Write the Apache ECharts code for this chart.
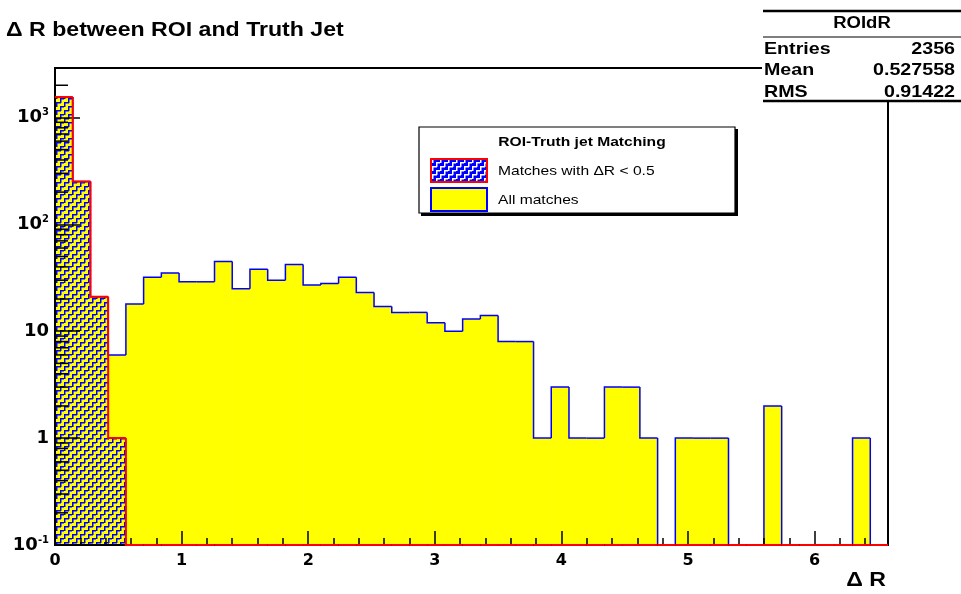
<!DOCTYPE html>
<html><head><meta charset="utf-8">
<script src="https://cdn.jsdelivr.net/npm/echarts@6/dist/echarts.min.js"></script>
<style>html,body{margin:0;padding:0;background:#fff}#c{width:961px;height:594px}</style>
</head><body><div id="c"></div>
<script>
// ---- data ----
const binWidth = 0.14;
const xMin = 0, xMax = 6.58;
const yMin = 0.1, yMax = 2900;
const allMatches = [1550, 252, 21, 6, 18, 32, 35, 29, 29, 45, 25, 38, 30, 42, 27, 28, 32, 23, 17, 15, 15, 12, 10, 13, 14, 8, 8, 1, 3, 1, 1, 3, 3, 1, 0, 1, 1, 1, 0, 0, 2, 0, 0, 0, 0, 1, 0];
const dRMatches = [1550, 252, 21, 1, 0, 0, 0, 0, 0, 0, 0, 0, 0, 0, 0, 0, 0, 0, 0, 0, 0, 0, 0, 0, 0, 0, 0, 0, 0, 0, 0, 0, 0, 0, 0, 0, 0, 0, 0, 0, 0, 0, 0, 0, 0, 0, 0];
const xTickLabels = ['0', '1', '2', '3', '4', '5', '6'];
const yTickExponents = [-1, 0, 1, 2, 3];
const titleText = 'Δ R between ROI and Truth Jet';
const xAxisTitle = 'Δ R';
const statsTitle = 'ROIdR';
const statsNames = ['Entries', 'Mean', 'RMS'];
const statsValues = ['2356', '0.527558', '0.91422'];
const legendTitle = 'ROI-Truth jet Matching';
const legendNames = ['Matches with ΔR < 0.5', 'All matches'];

// ---- helpers ----
const SX = 1.156;
const FONT = '"Liberation Sans", Arial, sans-serif';
function makePattern(bg, fg) {
  const c = document.createElement('canvas');
  c.width = 8; c.height = 8;
  const g = c.getContext('2d');
  if (bg) { g.fillStyle = bg; g.fillRect(0, 0, 8, 8); }
  g.fillStyle = fg;
  g.fillRect(0, 6, 5, 1.5);
  g.fillRect(4, 2, 1.5, 5);
  g.fillRect(4, 2, 4, 1.5);
  g.fillRect(0, 0, 1.5, 3);
  g.fillRect(0, 6, 1.5, 2);
  return c;
}
const hatchChart = makePattern(null, '#0000ff');
const hatchLegend = makePattern('#0000ff', '#ffffff');

function histData(vals) {
  return vals.map((v, i) => [i * binWidth, (i + 1) * binWidth, v]);
}
// filled bins
function fillRender(fill) {
  return function (params, api) {
    const x0 = api.value(0), x1 = api.value(1), v = api.value(2);
    if (!(v > 0)) return null;
    const p0 = api.coord([x0, v]);
    const p1 = api.coord([x1, v]);
    const pb = api.coord([x0, yMin]);
    return { type: 'rect', shape: { x: p0[0], y: p0[1], width: p1[0] - p0[0] + 0.6, height: pb[1] - p0[1] }, style: { fill: fill } };
  };
}
// step outline
function lineRender(vals, stroke, lw) {
  return function (params, api) {
    const i = params.dataIndex;
    const x0 = api.value(0), x1 = api.value(1), v = api.value(2);
    const vv = v > 0 ? v : yMin;
    const pv = i > 0 ? (vals[i - 1] > 0 ? vals[i - 1] : yMin) : yMin;
    const p0 = api.coord([x0, vv]);
    const p1 = api.coord([x1, vv]);
    const pp = api.coord([x0, pv]);
    const pts = (i === 0) ? [p0, p1] : [pp, p0, p1];
    if (i === vals.length - 1) pts.push(api.coord([x1, yMin]));
    return { type: 'polyline', shape: { points: pts }, style: { stroke: stroke, lineWidth: lw, fill: null } };
  };
}
const yMinorTicks = [];
for (let e = -1; e <= 3; e++) for (let m = 2; m <= 9; m++) { const t = m * Math.pow(10, e); if (t < yMax) yMinorTicks.push(t); }

function supLabel(exp) {
  if (exp === 0) return '{b|1}';
  if (exp === 1) return '{b|10}';
  return '{b|10}{s|' + exp + '}';
}

const chart = echarts.init(document.getElementById('c'));
chart.setOption({
  animation: false,
  grid: { left: 55, right: 73, top: 68, bottom: 49, show: true, borderColor: '#000', borderWidth: 2, backgroundColor: 'transparent', outerBoundsMode: 'none' },
  xAxis: {
    type: 'value', min: xMin, max: xMax, interval: 1, z: 10,
    axisLine: { show: true, lineStyle: { color: '#000', width: 2 } },
    axisTick: { show: true, inside: true, length: 14, lineStyle: { color: '#000', width: 1.5 } },
    minorTick: { show: true, splitNumber: 5, length: 7, lineStyle: { color: '#000', width: 1.5 } },
    splitLine: { show: false },
    axisLabel: {
      margin: 8, color: '#000', fontFamily: '"DejaVu Sans"', fontWeight: 'bold', fontSize: 16,
      showMaxLabel: false,
      formatter: v => { const k = Math.round(v); return Math.abs(v - k) < 1e-6 ? xTickLabels[k] : ''; }
    }
  },
  yAxis: {
    type: 'log', logBase: 10, min: yMin, max: yMax, z: 10,
    axisLine: { show: true, lineStyle: { color: '#000', width: 2 } },
    axisTick: { show: true, inside: true, length: 25, lineStyle: { color: '#000', width: 1.5 } },
    splitLine: { show: false },
    axisLabel: {
      margin: 6, color: '#000', showMaxLabel: false,
      formatter: v => {
        const e = Math.round(Math.log10(v));
        if (Math.abs(Math.log10(v) - e) > 1e-6 || yTickExponents.indexOf(e) < 0) return '';
        return supLabel(e);
      },
      rich: {
        b: { fontFamily: '"DejaVu Sans"', fontWeight: 'bold', fontSize: 18, color: '#000' },
        s: { fontFamily: '"DejaVu Sans"', fontWeight: 'bold', fontSize: 10, color: '#000', verticalAlign: 'bottom', padding: [0, 0, 10, 0] }
      }
    }
  },
  series: [
    {
      type: 'custom', name: 'All matches', z: 3, clip: false, silent: true,
      renderItem: fillRender('#ffff00'),
      data: histData(allMatches), encode: { x: [0, 1], y: 2 }
    },
    {
      type: 'custom', name: 'All matches outline', z: 4, clip: false, silent: true,
      renderItem: lineRender(allMatches, '#0000ff', 1.5),
      data: histData(allMatches), encode: { x: [0, 1], y: 2 }
    },
    {
      type: 'custom', name: 'Matches with ΔR < 0.5', z: 5, clip: false, silent: true,
      renderItem: fillRender({ image: hatchChart, repeat: 'repeat' }),
      data: histData(dRMatches), encode: { x: [0, 1], y: 2 }
    },
    {
      type: 'custom', name: 'minor y ticks', z: 12, clip: false, silent: true,
      renderItem: function (params, api) {
        const p = api.coord([0, api.value(1)]);
        return { type: 'line', shape: { x1: p[0], y1: p[1], x2: p[0] + 13, y2: p[1] }, style: { stroke: '#000', lineWidth: 1.5 } };
      },
      data: yMinorTicks.map(t => [0, t]), encode: { x: 0, y: 1 }
    },
    {
      type: 'custom', name: 'Matches outline', z: 20, clip: false, silent: true,
      renderItem: lineRender(dRMatches, '#ff0000', 2),
      data: histData(dRMatches), encode: { x: [0, 1], y: 2 }
    }
  ],
  graphic: [
    { type: 'text', x: 6, y: 30, scaleX: SX, style: { text: titleText, fontFamily: FONT, fontWeight: 'bold', fontSize: 20, fill: '#000', verticalAlign: 'middle', align: 'left' } },
    { type: 'text', x: 886, y: 580, scaleX: SX, style: { text: xAxisTitle, fontFamily: FONT, fontWeight: 'bold', fontSize: 20, fill: '#000', verticalAlign: 'middle', align: 'right' } },
    // stats box
    { type: 'rect', shape: { x: 762, y: 10, width: 199, height: 92 }, style: { fill: '#fff', stroke: null }, z: 50 },
    { type: 'line', shape: { x1: 763, y1: 11, x2: 961, y2: 11 }, style: { stroke: '#000', lineWidth: 2.5 }, z: 51 },
    { type: 'line', shape: { x1: 763, y1: 37, x2: 961, y2: 37 }, style: { stroke: '#000', lineWidth: 1.2 }, z: 51 },
    { type: 'line', shape: { x1: 763, y1: 101, x2: 961, y2: 101 }, style: { stroke: '#000', lineWidth: 2.5 }, z: 51 },
    { type: 'text', x: 862, y: 24, scaleX: SX, z: 52, style: { text: statsTitle, fontFamily: FONT, fontWeight: 'bold', fontSize: 16, fill: '#000', align: 'center', verticalAlign: 'middle' } },
    ...statsNames.map((n, i) => ({ type: 'text', x: 764, y: 49 + i * 21.5, scaleX: SX, z: 52, style: { text: n, fontFamily: FONT, fontWeight: 'bold', fontSize: 17, fill: '#000', align: 'left', verticalAlign: 'middle' } })),
    ...statsValues.map((n, i) => ({ type: 'text', x: 955, y: 49 + i * 21.5, scaleX: SX, z: 52, style: { text: n, fontFamily: FONT, fontWeight: 'bold', fontSize: 17, fill: '#000', align: 'right', verticalAlign: 'middle' } })),
    // legend box
    { type: 'rect', shape: { x: 421, y: 129, width: 317, height: 87 }, style: { fill: '#000' }, z: 40 },
    { type: 'rect', shape: { x: 419, y: 127, width: 316, height: 86 }, style: { fill: '#fff', stroke: '#000', lineWidth: 1.2 }, z: 41 },
    { type: 'text', x: 582, y: 142, scaleX: SX, z: 42, style: { text: legendTitle, fontFamily: FONT, fontWeight: 'bold', fontSize: 13.5, fill: '#000', align: 'center', verticalAlign: 'middle' } },
    { type: 'rect', shape: { x: 431, y: 159, width: 56, height: 23 }, style: { fill: { image: hatchLegend, repeat: 'repeat' }, stroke: '#ff0000', lineWidth: 2 }, z: 42 },
    { type: 'rect', shape: { x: 431, y: 188, width: 56, height: 23 }, style: { fill: '#ffff00', stroke: '#0000ff', lineWidth: 2 }, z: 42 },
    ...legendNames.map((n, i) => ({ type: 'text', x: 498, y: 171 + i * 29, scaleX: SX, z: 42, style: { text: n, fontFamily: FONT, fontSize: 13.5, fill: '#000', align: 'left', verticalAlign: 'middle' } }))
  ]
});
</script>
</body></html>
